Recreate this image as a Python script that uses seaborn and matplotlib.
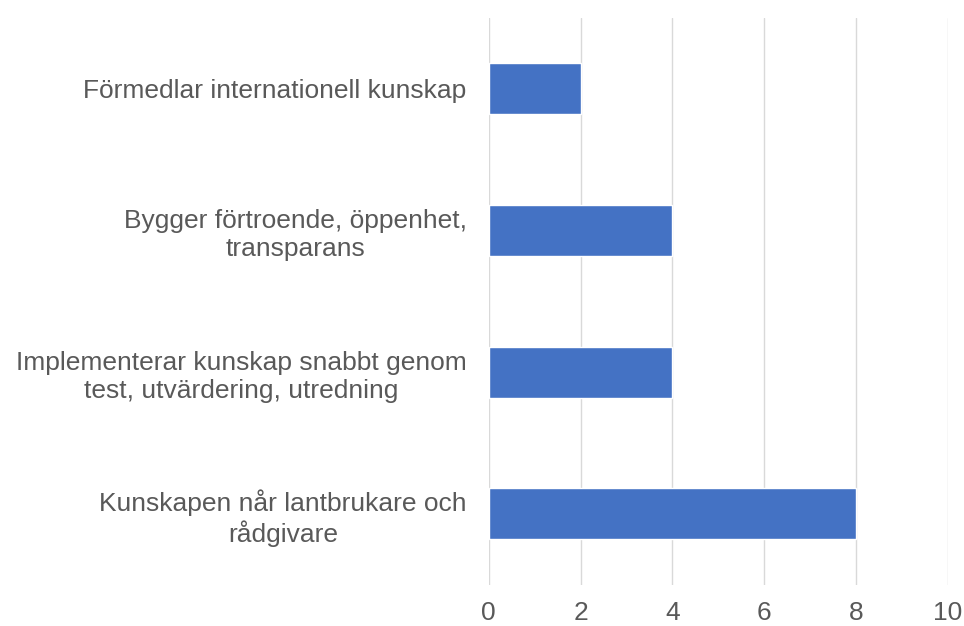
import matplotlib
matplotlib.use("Agg")
import matplotlib.pyplot as plt
import seaborn as sns
import pandas as pd

# data
categories = ["Förmedlar internationell kunskap",
              "Bygger förtroende, öppenhet,\ntransparans",
              "Implementerar kunskap snabbt genom\ntest, utvärdering, utredning",
              "Kunskapen når lantbrukare och\nrådgivare"]
values = [2, 4, 4, 8]
x_ticks = [0, 2, 4, 6, 8, 10]

df = pd.DataFrame({"kategori": categories, "antal": values})

sns.set_theme(style="white")
plt.rcParams['font.family'] = ['Liberation Sans', 'DejaVu Sans']

fig = plt.figure(figsize=(9.64, 6.26), dpi=100)
ax = fig.add_axes([0.507, 0.066, 0.476, 0.905])

sns.barplot(data=df, x="antal", y="kategori", color="#4472C4", width=0.36,
            saturation=1, ax=ax, zorder=3)

ax.set_xlim(0, 10)
ax.set_ylim(3.5, -0.5)
ax.set_xticks(x_ticks)
ax.grid(axis="x", color="#d9d9d9", linewidth=1, zorder=0)
for s in ax.spines.values():
    s.set_visible(False)
ax.set_xlabel("")
ax.set_ylabel("")
ax.tick_params(axis="x", length=0, pad=12, labelsize=19, labelcolor="#595959")
ax.tick_params(axis="y", length=0, pad=16, labelsize=19, labelcolor="#595959")
for lbl in ax.get_yticklabels():
    lbl.set_multialignment("center")

fig.savefig("out.png", dpi=100, facecolor="white")
